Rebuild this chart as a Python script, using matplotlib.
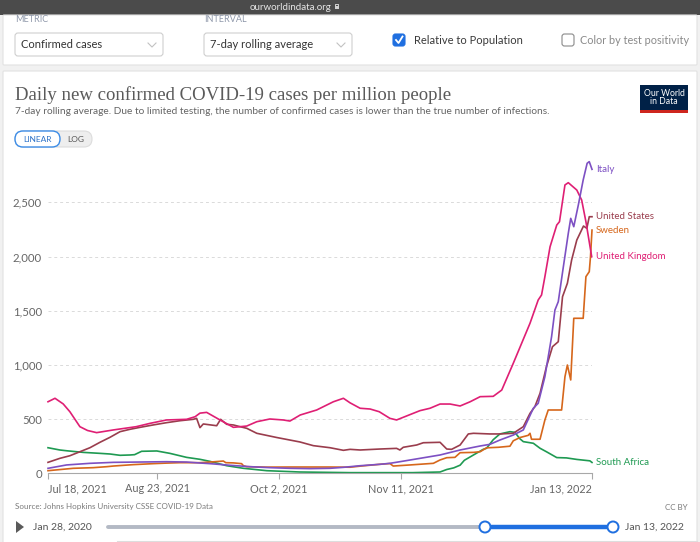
import numpy as np
import matplotlib
matplotlib.use("Agg")
import matplotlib.pyplot as plt
from matplotlib.patches import FancyBboxPatch, Rectangle, Circle, Polygon

plt.rcParams["font.family"] = ["Lato", "DejaVu Sans"]

START = np.datetime64("2021-07-18")
END = np.datetime64("2022-01-13")

TICK_DATES = ["2021-07-18", "2021-08-23", "2021-10-02", "2021-11-11", "2022-01-13"]
TICK_LABELS = ["Jul 18, 2021", "Aug 23, 2021", "Oct 2, 2021", "Nov 11, 2021", "Jan 13, 2022"]
Y_TICKS = [0, 500, 1000, 1500, 2000, 2500]
Y_LABELS = ["0", "500", "1,000", "1,500", "2,000", "2,500"]

# days after Jul 18, 2021 / cases per million (7-day avg)
UK_DAYS = [0, 2.3, 5, 7.2, 10.5, 13, 16, 21.5, 29, 33.6, 39, 42.3, 45.6, 48.4, 50, 52.2,
           56.6, 61, 65.4, 68.7, 73, 77.4, 79.6, 83, 88.4, 93.9, 97.2, 99.4, 102.7, 106,
           109, 112.5, 114.7, 118, 122.4, 125.7, 129, 132.3, 135.6, 138.9, 142.2, 146.5,
           149.3, 153.1, 158.6, 161.3, 162.4, 163.5, 165.2, 167.4, 168.3, 170.1, 171.2,
           174, 175.6, 177, 178.9]
UK_VALUES = [660, 692, 640, 568, 430, 395, 375, 400, 430, 461, 492, 495, 498, 522, 555, 562,
             492, 424, 436, 476, 501, 492, 482, 538, 584, 660, 692, 650, 600, 593,
             568, 507, 492, 529, 578, 600, 639, 639, 621, 660, 707, 710,
             768, 1015, 1384, 1599, 1645, 1814, 2090, 2290, 2321, 2660, 2681,
             2613, 2521, 2321, 1998]

ITALY_DAYS = [0, 6.1, 13.8, 21.5, 30.3, 39, 45.6, 50, 53.3, 59.9, 66.5, 73, 79.6, 86.2,
              92.8, 97.2, 102.7, 109.2, 112.5, 115.8, 122.4, 129, 135.6, 142.2, 145.4,
              148.7, 153.1, 156.4, 159.7, 161.3, 163.5, 165.7, 166.8, 167.9, 169.5, 171.2,
              172, 173, 174.5, 176.1, 177.4, 178.1, 179]
ITALY_VALUES = [46, 77, 92, 101, 104, 107, 104, 95, 89, 74, 61, 52, 46, 43,
                46, 55, 70, 83, 92, 107, 138, 169, 215, 252, 267,
                307, 353, 400, 600, 646, 891, 1260, 1506, 1583, 1891, 2214,
                2352, 2275, 2475, 2706, 2860, 2875, 2804]

US_DAYS = [0, 3.9, 7.2, 10.5, 13.8, 17.1, 20.4, 23.7, 27, 30.3, 34.6, 39, 43.4, 47.8, 48.9,
           50, 51.1, 55.5, 56.8, 58.8, 61, 63.2, 65.4, 68.7, 75.3, 82.9, 87.3, 92.8, 97.2,
           99.4, 102.7, 109.2, 114.7, 115.8, 116.9, 121.3, 123.5, 129, 131.2, 132.8, 135.6,
           138.3, 140, 145.4, 148.7, 153.1, 156.4, 158.6, 160.2, 161.9, 164, 166, 167.9,
           169.3, 170.9, 172.3, 174, 176.2, 177.3, 178.1, 179]
US_VALUES = [101, 138, 162, 199, 236, 286, 332, 384, 406, 424, 446, 467, 485, 498, 507,
             421, 455, 439, 498, 452, 446, 430, 415, 369, 330, 289, 255, 236, 212,
             221, 215, 224, 230, 215, 240, 261, 282, 286, 224, 221, 261,
             363, 369, 363, 363, 369, 430, 553, 615, 738, 983, 1168, 1214,
             1629, 1753, 1968, 2152, 2281, 2260, 2367, 2367]

SWEDEN_DAYS = [0, 8.3, 14.9, 19.3, 21.5, 28.1, 34.6, 39, 43.4, 50, 54.4, 57.7, 58.5, 61,
               63.7, 64.3, 65.4, 72, 79.6, 92.8, 99.4, 102.7, 109.2, 112.5, 113.6, 119.1,
               126.8, 129, 131.2, 133.9, 135.6, 140, 142.2, 144.3, 148.2, 152, 153.1, 155.3,
               158, 158.6, 159.1, 161.9, 163.5, 164.6, 169, 170.1, 170.9, 172, 173, 176.1,
               177, 178.1, 178.5, 179]
SWEDEN_VALUES = [24, 46, 52, 61, 67, 80, 89, 94, 98, 98, 106, 113, 98, 96,
                 89, 70, 61, 57, 58, 58, 56, 66, 83, 90, 67, 77,
                 92, 123, 144, 147, 190, 193, 199, 235, 240, 250, 300, 330,
                 350, 369, 314, 314, 492, 584, 584, 891, 999, 861, 1430, 1430,
                 1814, 1860, 1998, 2244]

SA_DAYS = [0, 3.9, 6.1, 11.6, 17.1, 20.4, 23.7, 27, 28.5, 30.8, 35.8, 40.1, 45.6, 50, 53.3,
           58.8, 64.3, 72, 82.9, 99.4, 120, 129, 131.2, 133.5, 135.6, 137, 140, 143.2, 144.3,
           146.5, 148.7, 152, 153.6, 155.3, 156.4, 159.7, 161.9, 164, 167.4, 170.6, 174,
           178.3, 179]
SA_VALUES = [236, 215, 208, 193, 184, 178, 166, 169, 172, 203, 206, 184, 147, 129, 110,
             70, 46, 24, 12, 6, 6, 12, 35, 50, 75, 120, 169, 221, 231,
             310, 363, 384, 378, 318, 292, 277, 231, 199, 145, 142, 128,
             115, 100]

SERIES = [
    ("South Africa", SA_DAYS, SA_VALUES, "#1f9a52"),
    ("Sweden", SWEDEN_DAYS, SWEDEN_VALUES, "#d6671c"),
    ("United States", US_DAYS, US_VALUES, "#9a3d4d"),
    ("United Kingdom", UK_DAYS, UK_VALUES, "#df1f74"),
    ("Italy", ITALY_DAYS, ITALY_VALUES, "#7d50c3"),
]

W, H = 700, 542
fig = plt.figure(figsize=(W / 100, H / 100), dpi=100)
fig.patch.set_facecolor("#f1f1f1")

# pixel-space overlay for the page chrome
bg = fig.add_axes([0, 0, 1, 1], zorder=0)
bg.set_xlim(0, W)
bg.set_ylim(H, 0)
bg.axis("off")


def box(x, y, w, h, fc="white", ec="#dddddd", lw=0.8, r=2, z=1):
    p = FancyBboxPatch((x, y), w, h, boxstyle=f"round,pad=0,rounding_size={r}",
                       fc=fc, ec=ec, lw=lw, zorder=z)
    bg.add_patch(p)


def txt(x, y, s, size=8, color="#333333", ha="left", va="center", **kw):
    bg.text(x, y, s, fontsize=size, color=color, ha=ha, va=va, **kw)


# browser bar
bg.add_patch(Rectangle((0, 0), W, 15, fc="#4b4b4b", ec="none", zorder=1))
txt(291, 7, "ourworldindata.org", size=7, color="#e6e6e6", ha="center")
bg.add_patch(Rectangle((334.5, 5.5), 4, 3.5, fc="#d0d0d0", ec="none", zorder=2))
bg.plot([335.3, 335.3, 337.7, 337.7], [5.6, 3.6, 3.6, 5.6], color="#d0d0d0", lw=0.7, zorder=2)

# controls panel
box(3, 15, 694, 50, ec="#e2e2e2", r=1)
txt(15, 20, "METRIC", size=6.5, color="#8f98aa")
txt(204, 20, "INTERVAL", size=6.5, color="#8f98aa")
for x0, label in [(15, "Confirmed cases"), (204, "7-day rolling average")]:
    box(x0, 33, 148, 23, ec="#cfcfcf", r=3, z=2)
    txt(x0 + 6, 45, label, size=8, color="#333333")
    bg.plot([x0 + 133, x0 + 137, x0 + 141], [43, 47, 43], color="#c2c2c2", lw=0.8, zorder=3)

box(393, 34, 12, 12, fc="#1f6fe0", ec="#1f6fe0", r=2.5, z=2)
bg.plot([396, 398.5, 402.5], [40, 43, 36.5], color="white", lw=1.3, zorder=3)
txt(414, 40.5, "Relative to Population", size=8, color="#3a3a3a")
box(562, 34, 12, 12, fc="white", ec="#8a8a8a", r=2.5, z=2)
txt(580, 40.5, "Color by test positivity", size=7.8, color="#8a8a8a")

# chart card
box(3, 71, 694, 480, ec="#e2e2e2", r=1)
bg.text(15, 95, "Daily new confirmed COVID-19 cases per million people", fontsize=13.5,
        color="#5a5a5a", ha="left", va="center", family=["Liberation Serif", "DejaVu Serif"])
txt(15, 111.5, "7-day rolling average. Due to limited testing, the number of confirmed cases "
    "is lower than the true number of infections.", size=7.3, color="#646464")

bg.add_patch(Rectangle((640, 85), 48, 25, fc="#002147", ec="none", zorder=2))
bg.add_patch(Rectangle((640, 110), 48, 3, fc="#ce261e", ec="none", zorder=2))
txt(664, 97.5, "Our World\nin Data", size=6.2, color="white", ha="center", linespacing=0.95,
    zorder=3)

box(15, 131, 77, 16, fc="#eeeeee", ec="#dcdcdc", r=8, z=2)
box(15, 131, 45, 16, fc="white", ec="#3c8ce6", lw=1.0, r=8, z=3)
txt(37.5, 139.5, "LINEAR", size=6, color="#2e73c8", ha="center", zorder=4)
txt(75.5, 139.5, "LOG", size=6, color="#555555", ha="center", zorder=4)

txt(15, 507, "Source: Johns Hopkins University CSSE COVID-19 Data", size=5.8, color="#7a7a7a")
txt(688, 507, "CC BY", size=5.8, color="#7a7a7a", ha="right")

# timeline
bg.add_patch(Polygon([[16, 521], [16, 533], [24, 527]], closed=True, fc="#5a5a5a", ec="none",
                     zorder=2))
txt(33, 527.5, "Jan 28, 2020", size=7.5, color="#555555")
bg.plot([108, 485], [527, 527], color="#b3b9c4", lw=2.8, solid_capstyle="round", zorder=2)
bg.plot([485, 613], [527, 527], color="#1f6fe0", lw=3.2, zorder=2)
for cx in (485, 613):
    bg.add_patch(Circle((cx, 527), 5.5, fc="white", ec="#1f6fe0", lw=1.4, zorder=3))
txt(625, 527.5, "Jan 13, 2022", size=7.5, color="#555555")
bg.plot([117, 697], [541, 541], color="#dddddd", lw=0.8, zorder=2)

# plot area
n_days = int((END - START).astype(int))
y_top = 2900
ax = fig.add_axes([48 / W, (H - 473.3) / H, 544 / W, (y_top * 0.1084) / H], zorder=1)
ax.patch.set_alpha(0)
ax.set_xlim(0, n_days)
ax.set_ylim(0, y_top)
for s in ax.spines.values():
    s.set_visible(False)
ax.spines["bottom"].set_visible(True)
ax.spines["bottom"].set_color("#a8a8a8")
ax.spines["bottom"].set_linewidth(0.8)

ax.set_yticks(Y_TICKS)
ax.set_yticklabels(Y_LABELS)
ax.tick_params(axis="y", length=0, pad=4.5, labelsize=8.2, labelcolor="#666666")
for v in Y_TICKS[1:]:
    ax.axhline(v, color="#dadada", lw=0.7, ls=(0, (3, 3)), zorder=0)

tick_pos = [int((np.datetime64(d) - START).astype(int)) for d in TICK_DATES]
ax.set_xticks(tick_pos)
ax.set_xticklabels(TICK_LABELS)
ax.tick_params(axis="x", length=4, width=0.8, color="#a8a8a8", pad=3, labelsize=7.8,
               labelcolor="#666666")
labels = ax.get_xticklabels()
labels[0].set_ha("left")
labels[-1].set_ha("right")

for name, days, vals, color in SERIES:
    ax.plot(days, vals, color=color, lw=1.2, clip_on=False, solid_joinstyle="round")
    ax.annotate(name, (days[-1], vals[-1]), xytext=(3, 0), textcoords="offset points",
                fontsize=7, color=color, va="center", ha="left", annotation_clip=False)

fig.savefig("out.png", dpi=100, facecolor=fig.get_facecolor())
